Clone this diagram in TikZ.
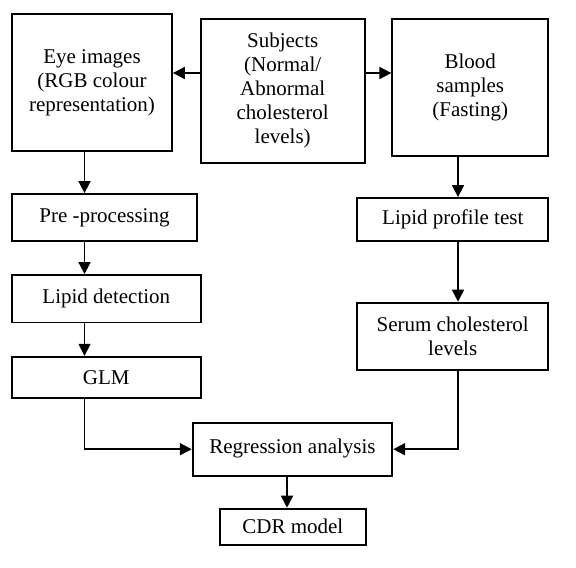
\documentclass[tikz,border=0pt]{standalone}
\usepackage{fontspec}
\setmainfont{Liberation Serif}
\usetikzlibrary{arrows.meta}

\begin{document}
\begin{tikzpicture}[x=0.5bp,y=-0.5bp,
    box/.style={draw,line width=0.9bp,align=center,inner sep=0pt,font=\fontsize{10.5bp}{12bp}\selectfont},
    arr/.style={line width=0.85bp,-{Triangle[length=6bp,width=6bp]}}]
    \useasboundingbox (0,0) rectangle (576,568);

    % top row
    \node[box,minimum width=80bp,minimum height=68.5bp] (eye) at (92,82.5) {\raisebox{-1.5bp}{\begin{tabular}{@{}c@{}}Eye images\\(RGB colour\\representation)\end{tabular}}};
    \node[box,minimum width=82bp,minimum height=72bp] (subj) at (282.7,90.8) {Subjects\\(Normal/\\Abnormal\\cholesterol\\levels)};
    \node[box,minimum width=78bp,minimum height=68.5bp] (blood) at (470.3,87.5) {Blood\\samples\\(Fasting)};

    % left column
    \node[box,minimum width=92.5bp,minimum height=23.5bp] (pre) at (104.5,217.5) {Pre -processing};
    \node[box,minimum width=94.3bp,minimum height=23.7bp] (lipid) at (106.3,298.7) {Lipid detection};
    \node[box,minimum width=94.3bp,minimum height=20.8bp] (glm) at (106.3,377.5) {GLM};

    % right column
    \node[box,minimum width=95.5bp,minimum height=21.5bp] (test) at (452.8,219.5) {Lipid profile test};
    \node[box,minimum width=95.6bp,minimum height=33.7bp] (serum) at (452.7,336.3) {Serum cholesterol\\levels};

    % bottom
    \node[box,minimum width=99.8bp,minimum height=26.5bp] (regr) at (292.5,449.2) {\raisebox{2.5bp}{Regression analysis}};
    \node[box,minimum width=72.8bp,minimum height=18.2bp] (cdr) at (292.8,526.8) {CDR model};

    \coordinate (ay) at (0,73);
    \coordinate (lx) at (84.5,0);
    \coordinate (rx) at (458,0);
    \coordinate (mx) at (287,0);

    \draw[arr] (subj.west |- ay) -- (eye.east |- ay);
    \draw[arr] (subj.east |- ay) -- (blood.west |- ay);
    \draw[arr] (eye.south -| lx) -- (pre.north -| lx);
    \draw[arr] (pre.south -| lx) -- (lipid.north -| lx);
    \draw[arr] (lipid.south -| lx) -- (glm.north -| lx);
    \draw[arr] (glm.south -| lx) |- (regr.west);
    \draw[arr] (blood.south -| rx) -- (test.north -| rx);
    \draw[arr] (test.south -| rx) -- (serum.north -| rx);
    \draw[arr] (serum.south -| rx) |- (regr.east);
    \draw[arr] (regr.south -| mx) -- (cdr.north -| mx);
\end{tikzpicture}
\end{document}
